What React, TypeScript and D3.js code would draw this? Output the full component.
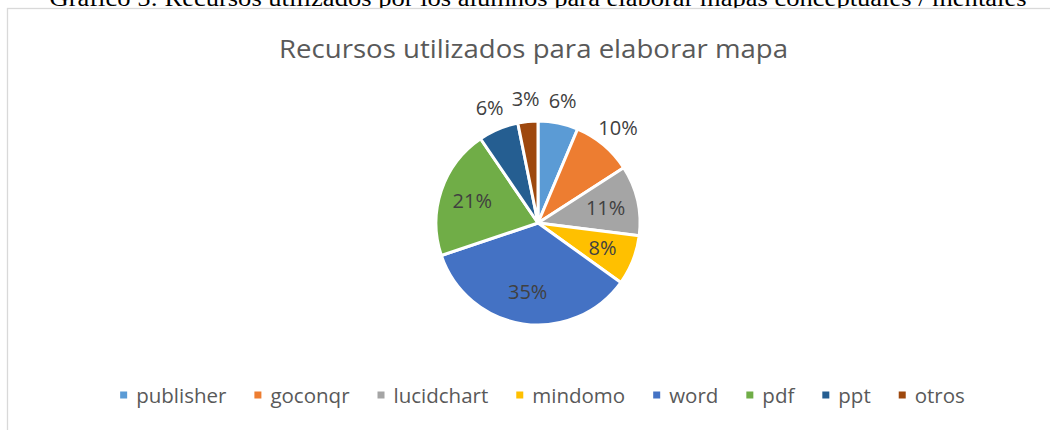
import { useEffect, useRef } from 'react';
import * as d3 from 'd3';

// Recursos utilizados por los alumnos (conteos)
const categories = ['publisher', 'goconqr', 'lucidchart', 'mindomo', 'word', 'pdf', 'ppt', 'otros'];
const counts = [4, 6, 7, 5, 22, 13, 4, 2];
const colors = ['#5B9BD5', '#ED7D31', '#A5A5A5', '#FFC000', '#4472C4', '#70AD47', '#255E91', '#9E480E'];
// slices whose label Excel put outside the pie
const outsideLabels = ['publisher', 'goconqr', 'ppt', 'otros'];

const caption = 'Gráfico 5: Recursos utilizados por los alumnos para elaborar mapas conceptuales / mentales';
const title = 'Recursos utilizados para elaborar mapa';

const W = 1050;
const H = 430;

const App = () => {
  const svgRef = useRef<SVGSVGElement>(null);

  useEffect(() => {
    const svg = d3.select(svgRef.current);
    svg.selectAll('*').remove();

    const font = '"Open Sans", "Noto Sans", sans-serif';

    // caption above the chart (its top is cut off by the crop)
    svg.append('text')
      .attr('x', 538)
      .attr('y', 5.5)
      .attr('text-anchor', 'middle')
      .attr('font-family', '"Liberation Serif", "Times New Roman", serif')
      .attr('font-size', 23)
      .attr('textLength', 977)
      .attr('lengthAdjust', 'spacingAndGlyphs')
      .attr('fill', '#000')
      .text(caption);

    // chart frame (only top and left edges are visible)
    svg.append('rect')
      .attr('x', 7.5)
      .attr('y', 8.5)
      .attr('width', W + 20)
      .attr('height', H + 20)
      .attr('fill', '#fff')
      .attr('stroke', '#D9D9D9')
      .attr('stroke-width', 1.3);

    svg.append('text')
      .attr('x', 533.5)
      .attr('y', 58)
      .attr('text-anchor', 'middle')
      .attr('font-family', font)
      .attr('font-size', 26)
      .attr('textLength', 509)
      .attr('lengthAdjust', 'spacingAndGlyphs')
      .attr('fill', '#595959')
      .text(title);

    const data = categories.map((c, i) => ({ name: c, value: counts[i], color: colors[i] }));
    const total = d3.sum(counts);

    const cx = 538;
    const cy = 223;
    const radius = 102;

    const pie = d3.pie<typeof data[number]>().value(d => d.value).sort(null);
    const arcs = pie(data);
    const arc = d3.arc<d3.PieArcDatum<typeof data[number]>>().innerRadius(0).outerRadius(radius);
    const inArc = d3.arc<d3.PieArcDatum<typeof data[number]>>().innerRadius(radius * 0.68).outerRadius(radius * 0.68);
    const outArc = d3.arc<d3.PieArcDatum<typeof data[number]>>().innerRadius(radius * 1.22).outerRadius(radius * 1.22);

    const g = svg.append('g').attr('transform', `translate(${cx},${cy})`);

    g.selectAll('path')
      .data(arcs)
      .enter().append('path')
      .attr('d', arc)
      .attr('fill', d => d.data.color)
      .attr('stroke', '#fff')
      .attr('stroke-width', 3)
      .attr('stroke-linejoin', 'round');

    g.selectAll('.label')
      .data(arcs)
      .enter().append('text')
      .attr('class', 'label')
      .attr('transform', d => {
        const [x, y] = outsideLabels.includes(d.data.name) ? outArc.centroid(d) : inArc.centroid(d);
        return `translate(${x},${y})`;
      })
      .attr('text-anchor', 'middle')
      .attr('dy', '0.35em')
      .attr('font-family', font)
      .attr('font-size', 20)
      .attr('fill', '#404040')
      .text(d => `${Math.round((d.data.value / total) * 100)}%`);

    // legend, laid out from measured text widths
    const legend = svg.append('g');
    const markerSize = 7;
    const markerGap = 9;
    const itemGap = 28;
    let x = 0;
    data.forEach(d => {
      const item = legend.append('g').attr('transform', `translate(${x},0)`);
      item.append('rect')
        .attr('x', 0)
        .attr('y', -markerSize / 2)
        .attr('width', markerSize)
        .attr('height', markerSize)
        .attr('fill', d.color);
      const t = item.append('text')
        .attr('x', markerSize + markerGap)
        .attr('y', 8)
        .attr('font-family', font)
        .attr('font-size', 20.5)
        .attr('fill', '#595959')
        .text(d.name);
      const w = (t.node() as SVGTextElement).getComputedTextLength();
      x += markerSize + markerGap + w + itemGap;
    });
    const legendWidth = x - itemGap;
    legend.attr('transform', `translate(${542.5 - legendWidth / 2},395)`);
  }, []);

  return (
    <svg
      ref={svgRef}
      width={W}
      height={H}
      style={{ position: 'absolute', left: 0, top: 0, display: 'block', background: '#fff' }}
    />
  );
};

export default App;
